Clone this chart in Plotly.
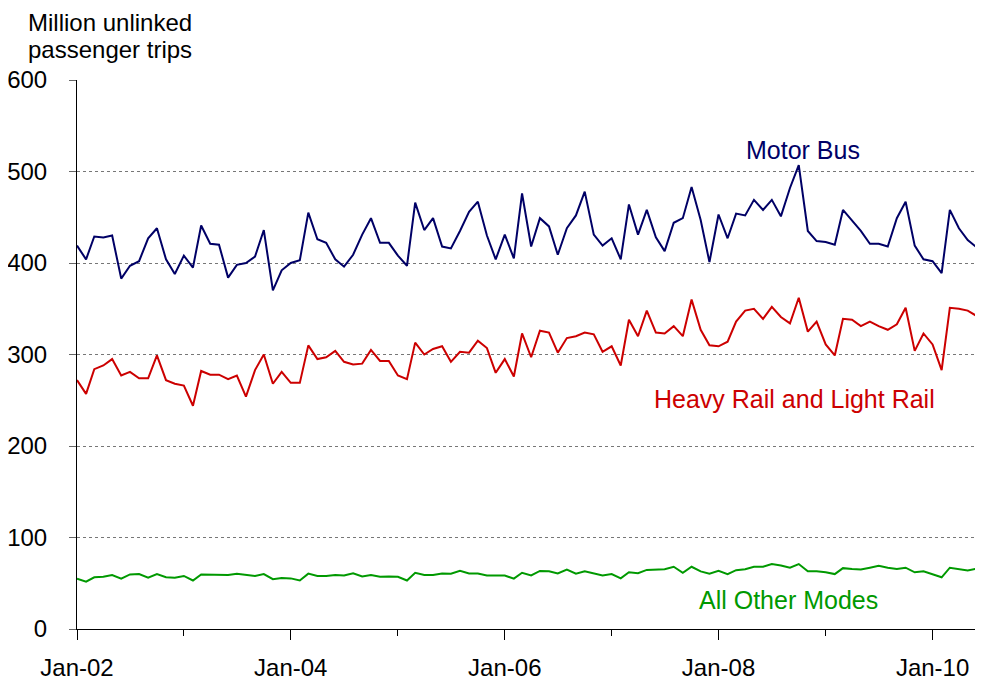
import pandas as pd
import plotly.graph_objects as go

months = pd.date_range("2002-01-01", periods=102, freq="MS")

motor_bus = [419, 404, 429, 428, 430, 383, 397, 402, 427, 438, 404, 388,
             408, 395, 441, 421, 420, 384, 398, 400, 407, 436, 370, 392,
             400, 403, 455, 426, 422, 404, 396, 409, 431, 449, 422, 422,
             408, 397, 466, 436, 449, 418, 416, 435, 456, 467, 430, 404,
             431, 405, 476, 418, 449, 440, 409, 438, 452, 478, 431, 419,
             427, 404, 464, 431, 458, 428, 413, 444, 449, 483, 447, 401,
             453, 427, 454, 452, 469, 458, 469, 451, 482, 507, 435, 424,
             423, 420, 458, 446, 435, 421, 421, 418, 449, 467, 419, 404,
             402, 389, 458, 438, 425, 417]

heavy_light_rail = [272, 257, 284, 288, 295, 277, 281, 274, 274, 299, 272, 268,
                    266, 244, 282, 278, 278, 273, 277, 254, 283, 300, 268, 281,
                    269, 269, 310, 295, 297, 304, 292, 289, 290, 305, 293, 293,
                    277, 273, 313, 300, 306, 309, 292, 303, 302, 315, 307, 280,
                    295, 276, 323, 297, 326, 324, 302, 318, 320, 324, 322, 303,
                    309, 288, 338, 320, 348, 324, 323, 331, 320, 360, 327, 310,
                    309, 314, 336, 348, 350, 339, 352, 341, 334, 362, 325, 336,
                    311, 299, 339, 338, 331, 336, 331, 327, 333, 351, 304, 323,
                    311, 283, 351, 350, 348, 342]

all_other = [55, 51.7, 56.5, 57, 59, 55, 59.6, 60, 56, 60, 56.5, 56,
             58, 53, 59.6, 59.6, 59.6, 59, 60.5, 59.3, 58, 60, 54.5, 55.7,
             55.3, 53, 60.5, 58, 58, 59, 58.5, 61, 57.5, 59, 57, 57.5,
             57, 53, 61.5, 59, 59, 60.7, 60.5, 63.5, 60.7, 60.7, 58.5, 58.5,
             58.5, 55, 61.5, 58.5, 63.5, 63, 60.7, 65, 60.5, 63, 60.5, 58.5,
             60, 55.3, 62, 61, 64.6, 64.6, 65.3, 68, 61.5, 68, 63, 60.5,
             63.5, 60, 64.3, 65.3, 68, 68, 71, 69.5, 67, 71, 63, 63,
             62, 60, 66.5, 65.6, 65, 67, 69, 67, 65.6, 67, 62, 63,
             60, 56.5, 67, 65.6, 64, 66]

series_names = ["Motor Bus", "Heavy Rail and Light Rail", "All Other Modes"]
series_colors = ["#000066", "#CC0000", "#009900"]
y_ticks = [0, 100, 200, 300, 400, 500, 600]
title_lines = ["Million unlinked", "passenger trips"]

FONT = "Liberation Sans, Arial, sans-serif"

fig = go.Figure()
for name, vals, col in zip(series_names, [motor_bus, heavy_light_rail, all_other], series_colors):
    fig.add_trace(go.Scatter(x=months, y=vals, mode="lines", name=name,
                             line=dict(color=col, width=2)))

label_pos = [("2008-10-15", 524), ("2008-09-18", 251), ("2008-08-28", 32)]
for (lx, ly), name, col in zip(label_pos, series_names, series_colors):
    fig.add_annotation(x=lx, y=ly, xref="x", yref="y", text=name, showarrow=False,
                       font=dict(family=FONT, size=25, color=col))

# title lines (two separate annotations for tight line spacing)
for k, line in enumerate(title_lines):
    fig.add_annotation(x=-0.057, y=1.133 - k * 0.049, xref="paper", yref="paper",
                       xanchor="left", yanchor="top", text=line, showarrow=False,
                       font=dict(family=FONT, size=24, color="black"))

# page has an 8px body margin, so the figure is sized/offset to compensate
fig.update_layout(
    width=975, height=676,
    margin=dict(l=69, r=3, t=72, b=55),
    paper_bgcolor="white", plot_bgcolor="white",
    showlegend=False,
    font=dict(family=FONT, size=24, color="black"),
)
fig.update_xaxes(
    range=["2002-01-01", "2010-06-12"],
    tick0="2002-01-01", dtick="M24", tickformat="%b-%y",
    ticks="outside", ticklen=10, tickcolor="black", tickwidth=1,
    ticklabelstandoff=7,
    minor=dict(dtick="M12", tick0="2002-01-01", ticks="outside", ticklen=6, tickcolor="black", showgrid=False),
    showline=True, linecolor="black", linewidth=1,
    showgrid=False, zeroline=False, automargin=False,
    tickfont=dict(family=FONT, size=24, color="black"),
)
fig.update_yaxes(
    range=[0, 600], tickvals=y_ticks,
    ticks="outside", ticklen=7, tickcolor="#666", tickwidth=1,
    ticklabelstandoff=17,
    showline=True, linecolor="black", linewidth=1,
    showgrid=True, gridcolor="#777", griddash="dot", gridwidth=1,
    zeroline=False, automargin=False,
    tickfont=dict(family=FONT, size=24, color="black"),
)

fig.write_html("out.html")
